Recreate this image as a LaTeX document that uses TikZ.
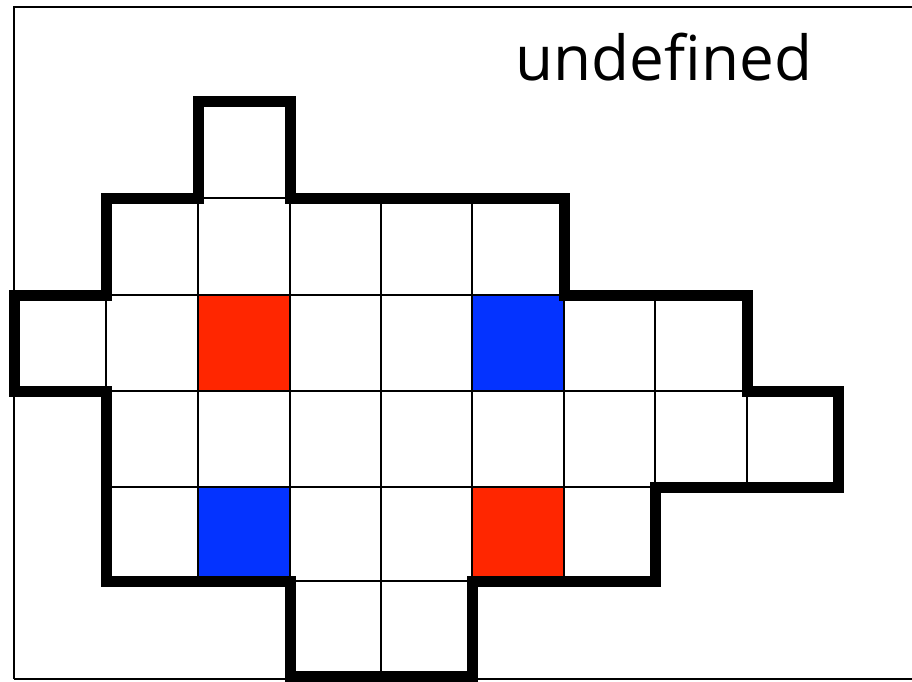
\documentclass[tikz,border=0pt]{standalone}
\usepackage{fontspec}
\setmainfont{Open Sans}
\definecolor{cred}{HTML}{FF2600}
\definecolor{cblue}{HTML}{0433FF}
\begin{document}
\begin{tikzpicture}[x=1pt,y=-1pt,
  cellline/.style={draw=black,line width=2.2pt},
  outline/.style={draw=black,line width=11pt,line join=miter,line cap=rect},
  frameline/.style={draw=black,line width=2.4pt}]
\clip (0,0) rectangle (912,681);
\fill[white] (0,0) rectangle (912,681);
\def\xs{{14,106,198,290,381,472,564,655,747,838}}
\def\ys{{7,101,198,295,391,487,581,676}}
% frame
\draw[frameline] (14,679) -- (14,7) -- (940,7);
\draw[frameline] (14,679) -- (940,679);
% cells: col/row/fill
\foreach \c/\r/\f in {2/1/white,
  1/2/white,2/2/white,3/2/white,4/2/white,5/2/white,
  0/3/white,1/3/white,2/3/cred,3/3/white,4/3/white,5/3/cblue,6/3/white,7/3/white,
  1/4/white,2/4/white,3/4/white,4/4/white,5/4/white,6/4/white,7/4/white,8/4/white,
  1/5/white,2/5/cblue,3/5/white,4/5/white,5/5/cred,6/5/white,
  3/6/white,4/6/white}{
  \pgfmathsetmacro\xa{\xs[\c]}
  \pgfmathsetmacro\xb{\xs[\c+1]}
  \pgfmathsetmacro\ya{\ys[\r]}
  \pgfmathsetmacro\yb{\ys[\r+1]}
  \filldraw[cellline,fill=\f] (\xa,\ya) rectangle (\xb,\yb);
}
% thick outline
\draw[outline] (198,101) -- (290,101) -- (290,198) -- (564,198) -- (564,295)
  -- (747,295) -- (747,391) -- (838,391) -- (838,487) -- (655,487) -- (655,581)
  -- (472,581) -- (472,676) -- (290,676) -- (290,581) -- (106,581) -- (106,391)
  -- (14,391) -- (14,295) -- (106,295) -- (106,198) -- (198,198) -- cycle;
\node[font=\fontsize{62}{62}\selectfont,inner sep=0pt,anchor=base] (title) at (664,80) {undefined};
\end{tikzpicture}
\end{document}
